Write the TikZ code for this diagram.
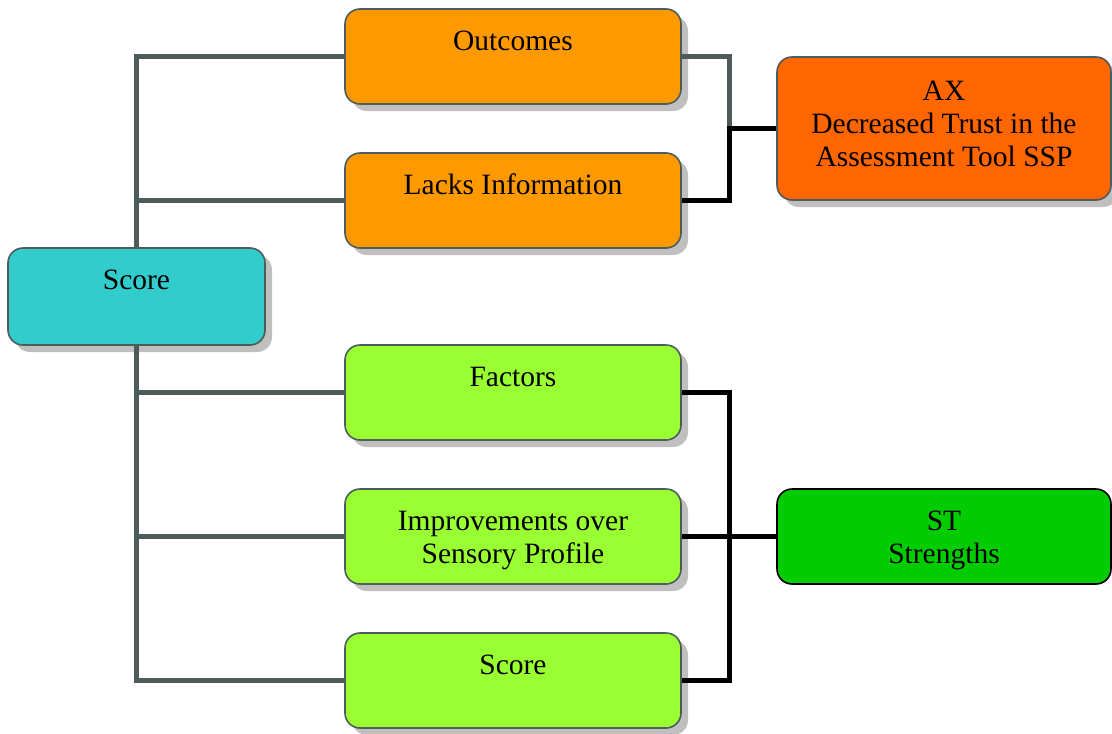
\documentclass[tikz,border=0pt]{standalone}
\usepackage{fontspec}
\setmainfont{Liberation Serif}
\usetikzlibrary{shadows}
\definecolor{bordergray}{HTML}{4F5B5B}
\definecolor{orangeA}{HTML}{FF9900}
\definecolor{orangeB}{HTML}{FF6600}
\definecolor{cyanA}{HTML}{33CCCC}
\definecolor{limeA}{HTML}{99FF33}
\definecolor{greenA}{HTML}{00CC00}
\newcommand\myTopRule[1]{\rule{0pt}{#1}}
\newcommand\myBotRule[1]{\rule[-#1]{0pt}{0pt}}
\tikzset{
  plainbox/.style={draw=bordergray, line width=1.6pt, rounded corners=15pt, align=center,
    font=\fontsize{29.5}{33.3}\selectfont, inner sep=0pt},
  box/.style={plainbox,
    drop shadow={shadow xshift=7pt, shadow yshift=-7pt, fill=black!25, opacity=1}},
  leftbox/.style={box, minimum width=336pt, minimum height=95pt},
  gline/.style={draw=bordergray, line width=5pt},
  bline/.style={draw=black, line width=5pt},
}
\begin{document}
\begin{tikzpicture}[x=1pt,y=-1pt]
\useasboundingbox (0,0) rectangle (1112,734);
\node[box, fill=cyanA, minimum width=257pt, minimum height=97pt] (sc) at (136.5,296.5) {\myTopRule{26pt}Score\\\myBotRule{7.7pt}};
\node[leftbox, fill=orangeA] (out) at (513,56.5) {\myTopRule{28pt}Outcomes\\\myBotRule{7.7pt}};
\node[leftbox, fill=orangeA] (lack) at (513,200.5) {\myTopRule{28pt}Lacks Information\\\myBotRule{7.7pt}};
\node[leftbox, fill=limeA] (fac) at (513,392.5) {\myTopRule{28pt}Factors\\\myBotRule{7.7pt}};
\node[leftbox, fill=limeA] (imp) at (513,536.5) {\myTopRule{28pt}Improvements over\\Sensory Profile\myBotRule{7.7pt}};
\node[leftbox, fill=limeA] (scb) at (513,680.5) {\myTopRule{28pt}Score\\\myBotRule{7.7pt}};
\node[box, fill=orangeB, minimum width=334pt, minimum height=143pt] (ax) at (944,128.5) {\myTopRule{24pt}AX\\Decreased Trust in the\\Assessment Tool SSP\myBotRule{14.4pt}};
\node[plainbox, draw=black, fill=greenA, minimum width=334pt, minimum height=95pt] (st) at (944,536.5) {\myTopRule{28pt}ST\\Strengths\myBotRule{7.7pt}};
\coordinate (j1) at (729,128.5);
\coordinate (j2) at (729,536.5);
\draw[gline] (sc.north) |- (out.west);
\draw[gline] (sc.north) |- (lack.west);
\draw[gline] (sc.south) |- (fac.west);
\draw[gline] (sc.south) |- (imp.west);
\draw[gline] (sc.south) |- (scb.west);
\draw[gline] (out.east) -| (j1);
\draw[bline] (lack.east) -| (j1) -- (ax.west);
\draw[bline] (fac.east) -| (j2) |- (scb.east);
\draw[bline] (imp.east) -- (st.west);
\end{tikzpicture}
\end{document}
